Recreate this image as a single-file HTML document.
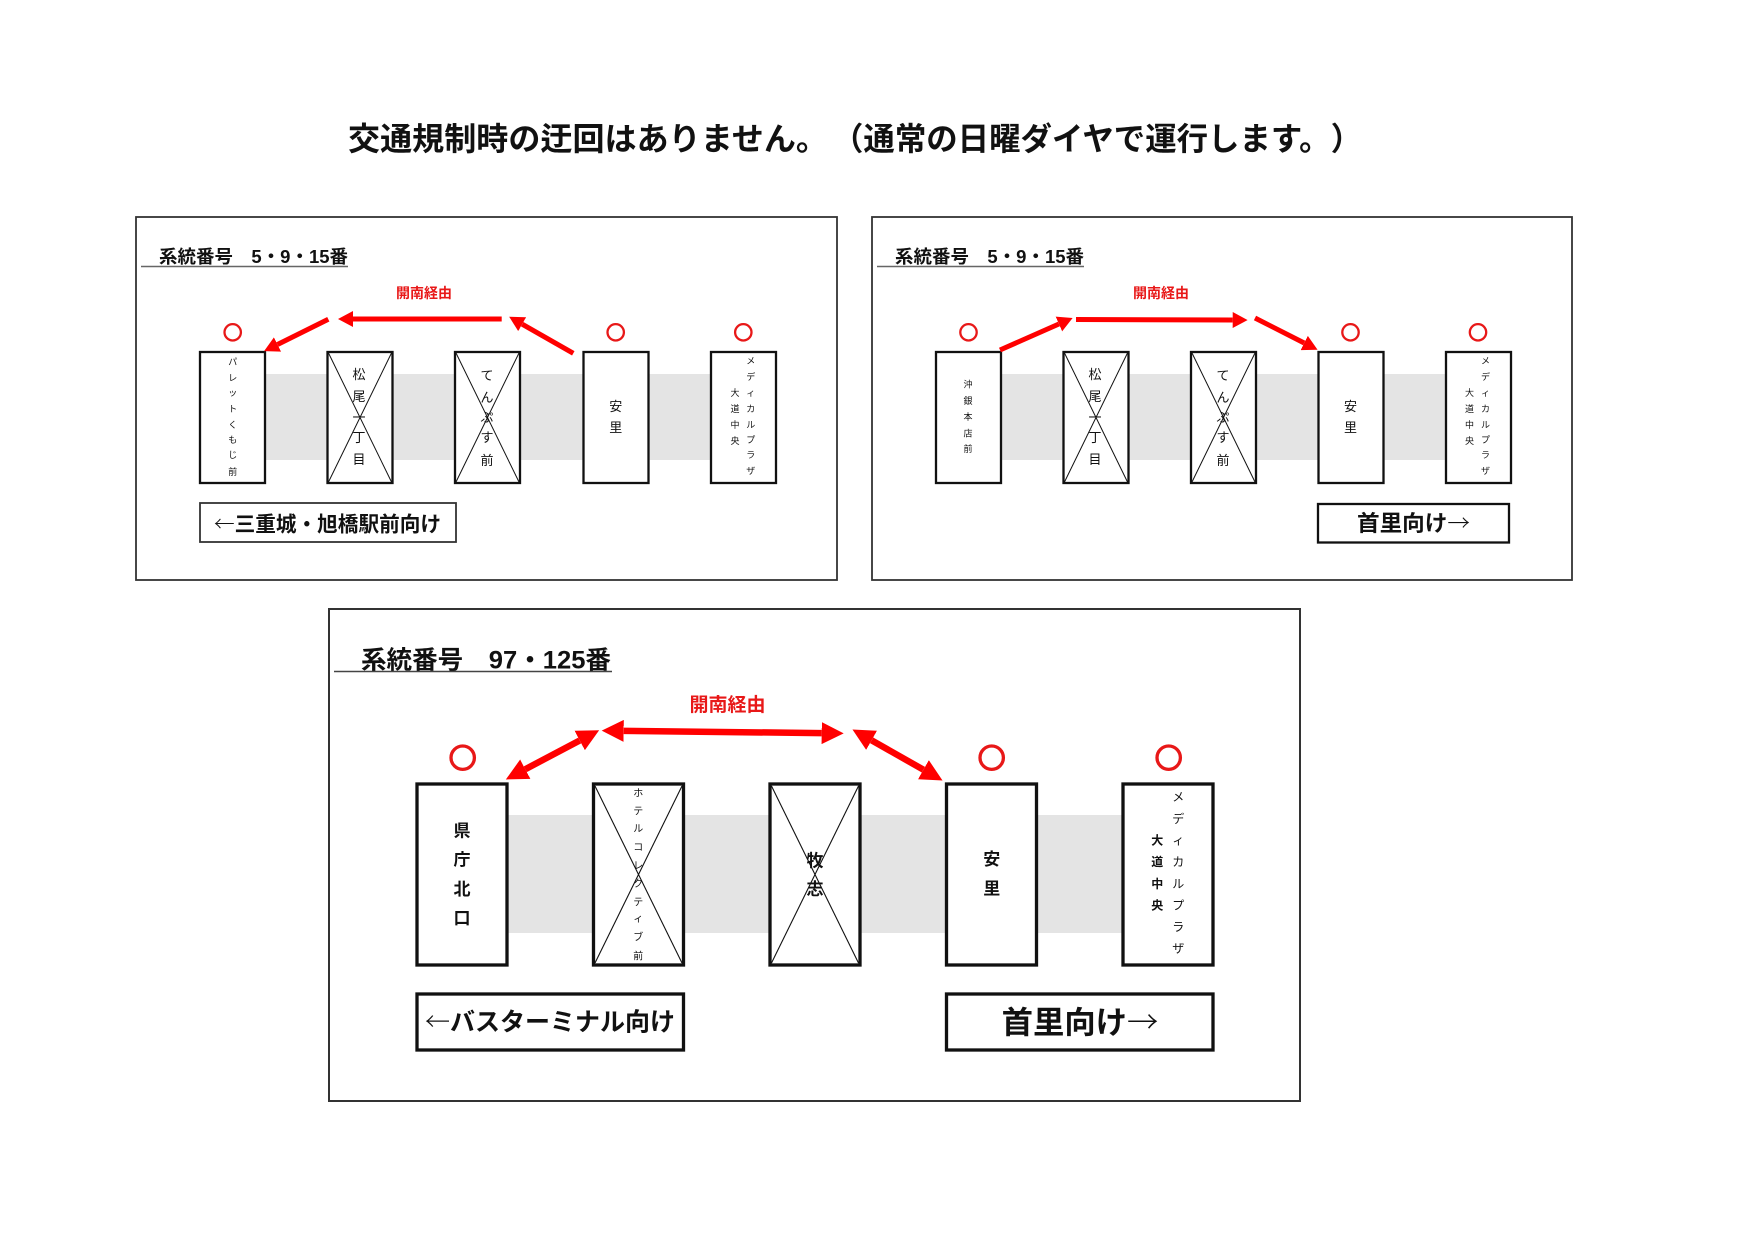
<!DOCTYPE html>
<html><head><meta charset="utf-8"><style>
html,body{margin:0;padding:0;background:#fff;}
svg{display:block;}
text{font-family:"Liberation Sans","Noto Sans CJK JP",sans-serif;text-spacing-trim:space-all;}
.cj{font-family:"Noto Sans CJK JP","Liberation Sans",sans-serif;}
.thin{font-weight:300;}
</style></head><body>
<svg width="1754" height="1240" viewBox="0 0 1754 1240" xmlns="http://www.w3.org/2000/svg">
<defs>
<marker id="hs" markerUnits="userSpaceOnUse" markerWidth="15" markerHeight="16" refX="0" refY="8" orient="auto-start-reverse" viewBox="0 0 15 16"><path d="M0,0 L15,8 L0,16 z" fill="#f00"/></marker>
<marker id="hb" markerUnits="userSpaceOnUse" markerWidth="22" markerHeight="22" refX="0" refY="11" orient="auto-start-reverse" viewBox="0 0 22 22"><path d="M0,0 L22,11 L0,22 z" fill="#f00"/></marker>
</defs>
<rect width="1754" height="1240" fill="#fff"/>

<!-- Main title -->
<text x="348" y="150" font-size="32" font-weight="bold" fill="#111" textLength="480" lengthAdjust="spacingAndGlyphs">交通規制時の迂回はありません。</text>
<text x="832" y="150" font-size="32" font-weight="bold" fill="#111" textLength="530" lengthAdjust="spacingAndGlyphs">（通常の日曜ダイヤで運行します。）</text>

<!-- ============ TOP LEFT PANEL ============ -->
<rect x="136" y="217" width="701" height="363" fill="none" stroke="#333" stroke-width="1.8"/>
<text x="159" y="263" font-size="18" font-weight="bold" fill="#111" textLength="189" lengthAdjust="spacingAndGlyphs">系統番号　5・9・15番</text>
<line x1="141" y1="266.5" x2="348" y2="266.5" stroke="#666" stroke-width="1.5"/>
<text x="424" y="298" font-size="14" font-weight="bold" fill="#e81818" text-anchor="middle">開南経由</text>

<rect x="265" y="374" width="446" height="86" fill="#e4e4e4"/>
<g fill="#fff" stroke="#111" stroke-width="2.3">
<rect x="200" y="352" width="65" height="131"/>
<rect x="327.5" y="352" width="65" height="131"/>
<rect x="455" y="352" width="65" height="131"/>
<rect x="583.5" y="352" width="65" height="131"/>
<rect x="711" y="352" width="65" height="131"/>
</g>
<g stroke="#111" stroke-width="1">
<line x1="328.5" y1="353" x2="391.5" y2="482"/><line x1="391.5" y1="353" x2="328.5" y2="482"/>
<line x1="456" y1="353" x2="519" y2="482"/><line x1="519" y1="353" x2="456" y2="482"/>
</g>
<g fill="none" stroke="#e81818" stroke-width="2.3">
<circle cx="232.7" cy="332.3" r="8.2"/><circle cx="615.7" cy="332.3" r="8.2"/><circle cx="743.3" cy="332.3" r="8.2"/>
</g>
<g fill="#111" text-anchor="middle">
<g font-size="9"><text x="232.7" y="365">パ</text><text x="232.7" y="381">レ</text><text x="232.7" y="396">ッ</text><text x="232.7" y="412">ト</text><text x="232.7" y="428">く</text><text x="232.7" y="443">も</text><text x="232.7" y="458">じ</text><text x="232.7" y="475">前</text></g>
<g font-size="13"><text x="359" y="379">松</text><text x="359" y="401">尾</text><text x="359" y="422">一</text><text x="359" y="442">丁</text><text x="359" y="464">目</text></g>
<g font-size="13"><text x="487" y="380">て</text><text x="487" y="402">ん</text><text x="487" y="422">ぷ</text><text x="487" y="442">す</text><text x="487" y="465">前</text></g>
<g font-size="13"><text x="615.7" y="411">安</text><text x="615.7" y="432">里</text></g>
<g font-size="9"><text x="750.7" y="364">メ</text><text x="750.7" y="380">デ</text><text x="750.7" y="396">ィ</text><text x="750.7" y="412">カ</text><text x="750.7" y="428">ル</text><text x="750.7" y="443">プ</text><text x="750.7" y="458">ラ</text><text x="750.7" y="474">ザ</text></g>
<g font-size="9"><text x="735" y="396">大</text><text x="735" y="412">道</text><text x="735" y="428">中</text><text x="735" y="444">央</text></g>
</g>
<g stroke="#f00" stroke-width="5" fill="none">
<path d="M573.3,353.3 L522.2,324.2" marker-end="url(#hs)"/>
<path d="M501.7,319 L353,319" marker-end="url(#hs)"/>
<path d="M328.3,319.3 L277.5,344.5" marker-end="url(#hs)"/>
</g>
<rect x="200" y="503" width="256" height="39" fill="#fff" stroke="#333" stroke-width="1.8"/>
<text class="cj" x="214" y="531.5" font-size="21" font-weight="bold" fill="#111" textLength="227" lengthAdjust="spacingAndGlyphs"><tspan class="thin">←</tspan>三重城・旭橋駅前向け</text>

<!-- ============ TOP RIGHT PANEL ============ -->
<rect x="872" y="217" width="700" height="363" fill="none" stroke="#333" stroke-width="1.8"/>
<text x="895" y="263" font-size="18" font-weight="bold" fill="#111" textLength="189" lengthAdjust="spacingAndGlyphs">系統番号　5・9・15番</text>
<line x1="877" y1="266.5" x2="1084" y2="266.5" stroke="#666" stroke-width="1.5"/>
<text x="1161" y="298" font-size="14" font-weight="bold" fill="#e81818" text-anchor="middle">開南経由</text>

<rect x="1001" y="374" width="446" height="86" fill="#e4e4e4"/>
<g fill="#fff" stroke="#111" stroke-width="2.3">
<rect x="936" y="352" width="65" height="131"/>
<rect x="1063.5" y="352" width="65" height="131"/>
<rect x="1191" y="352" width="65" height="131"/>
<rect x="1318.5" y="352" width="65" height="131"/>
<rect x="1446" y="352" width="65" height="131"/>
</g>
<g stroke="#111" stroke-width="1">
<line x1="1064.5" y1="353" x2="1127.5" y2="482"/><line x1="1127.5" y1="353" x2="1064.5" y2="482"/>
<line x1="1192" y1="353" x2="1255" y2="482"/><line x1="1255" y1="353" x2="1192" y2="482"/>
</g>
<g fill="none" stroke="#e81818" stroke-width="2.3">
<circle cx="968.5" cy="332.3" r="8.2"/><circle cx="1350.5" cy="332.3" r="8.2"/><circle cx="1478" cy="332.3" r="8.2"/>
</g>
<g fill="#111" text-anchor="middle">
<g font-size="9"><text x="968" y="387.5">沖</text><text x="968" y="404">銀</text><text x="968" y="420">本</text><text x="968" y="436.5">店</text><text x="968" y="452">前</text></g>
<g font-size="13"><text x="1095" y="379">松</text><text x="1095" y="401">尾</text><text x="1095" y="422">一</text><text x="1095" y="442">丁</text><text x="1095" y="464">目</text></g>
<g font-size="13"><text x="1223" y="380">て</text><text x="1223" y="402">ん</text><text x="1223" y="422">ぷ</text><text x="1223" y="442">す</text><text x="1223" y="465">前</text></g>
<g font-size="13"><text x="1350.5" y="411">安</text><text x="1350.5" y="432">里</text></g>
<g font-size="9"><text x="1485.5" y="364">メ</text><text x="1485.5" y="380">デ</text><text x="1485.5" y="396">ィ</text><text x="1485.5" y="412">カ</text><text x="1485.5" y="428">ル</text><text x="1485.5" y="443">プ</text><text x="1485.5" y="458">ラ</text><text x="1485.5" y="474">ザ</text></g>
<g font-size="9"><text x="1469.5" y="396">大</text><text x="1469.5" y="412">道</text><text x="1469.5" y="428">中</text><text x="1469.5" y="444">央</text></g>
</g>
<g stroke="#f00" stroke-width="5" fill="none">
<path d="M1000,350 L1058.9,324.0" marker-end="url(#hs)"/>
<path d="M1076,319.5 L1232.7,320" marker-end="url(#hs)"/>
<path d="M1255,318 L1304.2,343.0" marker-end="url(#hs)"/>
</g>
<rect x="1318" y="504" width="191" height="38.5" fill="#fff" stroke="#111" stroke-width="2.3"/>
<text class="cj" x="1357" y="531" font-size="22" font-weight="bold" fill="#111" textLength="113" lengthAdjust="spacingAndGlyphs">首里向け<tspan class="thin">→</tspan></text>

<!-- ============ BOTTOM PANEL ============ -->
<rect x="329" y="609" width="971" height="492" fill="none" stroke="#333" stroke-width="2"/>
<text x="361" y="668.5" font-size="25" font-weight="bold" fill="#111" textLength="250" lengthAdjust="spacingAndGlyphs">系統番号　97・125番</text>
<line x1="334" y1="671.5" x2="612" y2="671.5" stroke="#444" stroke-width="1.5"/>
<text x="727.5" y="711" font-size="19" font-weight="bold" fill="#e81818" text-anchor="middle">開南経由</text>

<rect x="506" y="815" width="617" height="118" fill="#e4e4e4"/>
<g fill="#fff" stroke="#111" stroke-width="3.3">
<rect x="417" y="784" width="90" height="181"/>
<rect x="593.5" y="784" width="90" height="181"/>
<rect x="770" y="784" width="90" height="181"/>
<rect x="946.5" y="784" width="90" height="181"/>
<rect x="1123" y="784" width="90" height="181"/>
</g>
<g stroke="#111" stroke-width="1.1">
<line x1="595" y1="786" x2="682" y2="963"/><line x1="682" y1="786" x2="595" y2="963"/>
<line x1="771.5" y1="786" x2="858.5" y2="963"/><line x1="858.5" y1="786" x2="771.5" y2="963"/>
</g>
<g fill="none" stroke="#e81818" stroke-width="3.3">
<circle cx="462.7" cy="757.7" r="11.7"/><circle cx="991.7" cy="757.7" r="11.7"/><circle cx="1168.7" cy="757.7" r="11.7"/>
</g>
<g fill="#111" text-anchor="middle">
<g font-size="17" font-weight="bold"><text x="462" y="836.5">県</text><text x="462" y="865.5">庁</text><text x="462" y="895">北</text><text x="462" y="924">口</text></g>
<g font-size="10"><text x="638.3" y="796.5">ホ</text><text x="638.3" y="814.5">テ</text><text x="638.3" y="832">ル</text><text x="638.3" y="850.5">コ</text><text x="638.3" y="869">レ</text><text x="638.3" y="887">ク</text><text x="638.3" y="905.5">テ</text><text x="638.3" y="922">ィ</text><text x="638.3" y="940.5">ブ</text><text x="638.3" y="959.5">前</text></g>
<g font-size="17" font-weight="bold"><text x="815" y="866.5">牧</text><text x="815" y="895">志</text></g>
<g font-size="17" font-weight="bold"><text x="991.7" y="865">安</text><text x="991.7" y="894.5">里</text></g>
<g font-size="12"><text x="1178.3" y="801">メ</text><text x="1178.3" y="823">デ</text><text x="1178.3" y="844.5">ィ</text><text x="1178.3" y="866">カ</text><text x="1178.3" y="888">ル</text><text x="1178.3" y="909.5">プ</text><text x="1178.3" y="931">ラ</text><text x="1178.3" y="952.5">ザ</text></g>
<g font-size="12" font-weight="bold"><text x="1157.3" y="844.5">大</text><text x="1157.3" y="866">道</text><text x="1157.3" y="888">中</text><text x="1157.3" y="909.5">央</text></g>
</g>
<g stroke="#f00" stroke-width="6.5" fill="none">
<path d="M525.3,769.2 L579.7,740.5" marker-start="url(#hb)" marker-end="url(#hb)"/>
<path d="M623.7,730.9 L821.7,733.1" marker-start="url(#hb)" marker-end="url(#hb)"/>
<path d="M871.6,740.3 L923.4,769.7" marker-start="url(#hb)" marker-end="url(#hb)"/>
</g>
<rect x="417" y="994" width="266.5" height="56" fill="#fff" stroke="#111" stroke-width="3.3"/>
<text class="cj" x="425" y="1030.5" font-size="25" font-weight="bold" fill="#111" textLength="250" lengthAdjust="spacingAndGlyphs"><tspan class="thin">←</tspan>バスターミナル向け</text>
<rect x="946.5" y="994" width="266.5" height="56" fill="#fff" stroke="#111" stroke-width="3.3"/>
<text class="cj" x="1001.7" y="1033.5" font-size="31" font-weight="bold" fill="#111" textLength="156.6" lengthAdjust="spacingAndGlyphs">首里向け<tspan class="thin">→</tspan></text>
</svg>
</body></html>
